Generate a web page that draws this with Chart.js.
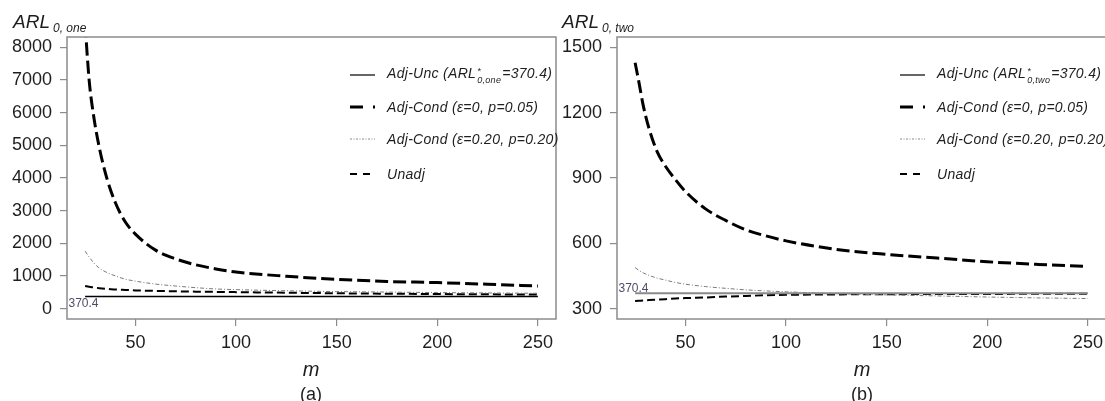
<!DOCTYPE html>
<html>
<head>
<meta charset="utf-8">
<script src="https://cdn.jsdelivr.net/npm/chart.js@4.4.1/dist/chart.umd.min.js"></script>
<style>
body { margin: 0; width: 1105px; height: 401px; overflow: hidden; background: #fff; position: relative;
       font-family: "Liberation Sans", Arial, sans-serif; color: #1e1e1e; }
.panel { position: absolute; top: 0; width: 560px; height: 401px; }
.txt { position: absolute; white-space: nowrap; line-height: 1; }
.ylab { font-size: 19px; font-style: italic; }
.ylab .sub { font-size: 12px; position: relative; top: 4px; margin-left: 3px; }
.xlab { font-size: 20px; font-style: italic; transform: translateX(-50%); }
.plab { font-size: 18px; transform: translateX(-50%); }
.legend-row { position: absolute; height: 14px; display: flex; align-items: center; white-space: nowrap;
              font-style: italic; font-size: 14px; letter-spacing: 0.3px; line-height: 14px; }
.legend-row svg { flex: none; margin-right: 12px; }
.ss { display: inline-block; font-size: 9px; line-height: 9px; vertical-align: -5px; text-align: left; margin: 0 1px; }
</style>
</head>
<body>
<div class="panel" style="left:0"><canvas id="chartA"></canvas></div>
<div class="panel" style="left:550px"><canvas id="chartB"></canvas></div>

<div class="txt ylab" style="left:13px; top:11.5px">ARL<span class="sub">0, one</span></div>
<div class="txt ylab" style="left:562px; top:11.5px">ARL<span class="sub">0, two</span></div>
<div class="txt xlab" style="left:311px; top:359px">m</div>
<div class="txt xlab" style="left:862px; top:359px">m</div>
<div class="txt plab" style="left:311px; top:385px">(a)</div>
<div class="txt plab" style="left:862px; top:385px">(b)</div>
<div id="legendA"></div>
<div id="legendB"></div>

<script>
// sample sizes m (x axis)
const mValues = [25, 27, 29, 32, 36, 40, 45, 50, 60, 70, 80, 90, 100, 125, 150, 175, 200, 225, 250];
const mEnds = [25, 250];
const xTicks = [50, 100, 150, 200, 250];
const arlTarget = 370.4;

// panel (a): one-sided
const yTicksA = [0, 1000, 2000, 3000, 4000, 5000, 6000, 7000, 8000];
const adjUncA = [370.4, 370.4];
const condStrictA = [8700, 7000, 6000, 4950, 3950, 3250, 2650, 2280, 1790, 1520, 1340, 1215, 1120, 990, 895, 830, 795, 745, 690];
const condLooseA = [1760, 1580, 1420, 1240, 1100, 1000, 900, 840, 750, 690, 640, 600, 580, 545, 520, 505, 490, 478, 468];
const unadjA = [690, 670, 650, 625, 600, 585, 570, 555, 540, 528, 518, 510, 503, 485, 468, 455, 445, 436, 428];

// panel (b): two-sided
const yTicksB = [300, 600, 900, 1200, 1500];
const adjUncB = [370.4, 370.4];
const condStrictB = [1430, 1335, 1235, 1125, 1020, 955, 893, 838, 758, 705, 662, 634, 611, 572, 549, 532, 515, 503, 493];
const condLooseB = [488, 475, 464, 452, 440, 431, 420, 412, 401, 393, 386, 381, 377, 369, 363, 358, 353, 349, 346];
const unadjB = [335, 336, 337, 339, 341, 343, 346, 348, 351, 355, 358, 361, 363, 365, 366, 367, 367, 368, 368];

const legendNames = ['Adj-Unc', 'Adj-Cond (\u03b5=0, p=0.05)', 'Adj-Cond (\u03b5=0.20, p=0.20)', 'Unadj'];

const pts = (xs, ys) => xs.map((x, i) => ({ x: x, y: ys[i] }));

// frame around the plot area + the "370.4" note next to the target line
const framePlugin = {
    id: 'frame',
    afterDraw(chart, args, opts) {
        const { ctx, chartArea: a } = chart;
        ctx.save();
        ctx.strokeStyle = '#8c8c8c';
        ctx.lineWidth = 1.5;
        ctx.strokeRect(a.left, a.top, a.right - a.left, a.bottom - a.top);
        const y = chart.scales.y.getPixelForValue(opts.value);
        ctx.font = '12px "Liberation Sans Narrow", "Liberation Sans", sans-serif';
        ctx.fillStyle = '#4d4d6b';
        ctx.textBaseline = 'alphabetic';
        ctx.fillText(String(opts.value), a.left + 1.5, y + opts.offset);
        ctx.restore();
    }
};

function makeChart(id, sets, yTicks, yMin, yMax, ref) {
    const tickFont = { family: '"Liberation Sans", Arial, sans-serif', size: 18 };
    const gridOpts = { drawOnChartArea: false, drawTicks: true, tickLength: 7, color: '#8c8c8c', lineWidth: 1.2 };
    return new Chart(document.getElementById(id), {
        type: 'line',
        data: { datasets: sets },
        plugins: [framePlugin],
        options: {
            responsive: true,
            maintainAspectRatio: false,
            animation: false,
            layout: { padding: { left: 0, top: 37, right: 4, bottom: 0 } },
            plugins: {
                legend: { display: false },
                tooltip: { enabled: false },
                frame: ref
            },
            elements: { point: { radius: 0 } },
            scales: {
                x: {
                    type: 'linear', min: 16, max: 259,
                    afterBuildTicks: s => { s.ticks = xTicks.map(v => ({ value: v })); },
                    afterFit: s => { s.height = 82; },
                    grid: gridOpts,
                    border: { display: false },
                    ticks: { font: tickFont, color: '#1e1e1e', padding: 6, maxRotation: 0, autoSkip: false,
                             callback: v => String(v) }
                },
                y: {
                    type: 'linear', min: yMin, max: yMax,
                    afterBuildTicks: s => { s.ticks = yTicks.map(v => ({ value: v })); },
                    afterFit: s => { s.width = 67; },
                    grid: gridOpts,
                    border: { display: false },
                    ticks: { font: tickFont, color: '#1e1e1e', padding: 8, autoSkip: false,
                             callback: v => String(v) }
                }
            }
        }
    });
}

function series(unc, uncColor, uncWidth, strict, loose, unadj) {
    const common = { pointRadius: 0, fill: false, clip: 0, cubicInterpolationMode: 'monotone' };
    return [
        Object.assign({ label: legendNames[0], data: pts(mEnds, unc), borderColor: uncColor, borderWidth: uncWidth }, common),
        Object.assign({ label: legendNames[1], data: pts(mValues, strict), borderColor: '#000', borderWidth: 3, borderDash: [13, 5] }, common),
        Object.assign({ label: legendNames[2], data: pts(mValues, loose), borderColor: '#7a7a7a', borderWidth: 1, borderDash: [4, 2, 1, 2] }, common),
        Object.assign({ label: legendNames[3], data: pts(mValues, unadj), borderColor: '#000', borderWidth: 2, borderDash: [8, 4] }, common)
    ];
}

makeChart('chartA', series(adjUncA, '#000', 1.5, condStrictA, condLooseA, unadjA), yTicksA, -320, 8320, { value: arlTarget, offset: 11 });
makeChart('chartB', series(adjUncB, '#8a8a8a', 2, condStrictB, condLooseB, unadjB), yTicksB, 252, 1548, { value: arlTarget, offset: -1 });

// legends (HTML, so the sub/superscripts stay real text)
const sampleStyles = [
    { color: '#000', width: 1.2, dash: '' },
    { color: '#000', width: 3, dash: '13 10' },
    { color: '#8a8a8a', width: 1, dash: '2 1.5 1 1.5' },
    { color: '#000', width: 2, dash: '7 6' }
];
const rowCenters = [75, 106.7, 139.3, 174];

function buildLegend(el, left, side) {
    let html = '';
    legendNames.forEach((name, i) => {
        const st = sampleStyles[i];
        let label = name;
        if (i === 0) {
            label = 'Adj-Unc (ARL<span class="ss">*<br>0,' + side + '</span>=' + arlTarget + ')';
        }
        html += '<div class="legend-row" style="left:' + left + 'px; top:' + (rowCenters[i] - 7) + 'px">' +
            '<svg width="25" height="8"><line x1="0" y1="4" x2="25" y2="4" stroke="' + st.color +
            '" stroke-width="' + st.width + '" stroke-dasharray="' + st.dash + '"/></svg>' +
            '<span>' + label + '</span></div>';
    });
    el.innerHTML = html;
}
buildLegend(document.getElementById('legendA'), 350, 'one');
buildLegend(document.getElementById('legendB'), 900, 'two');
</script>
</body>
</html>
